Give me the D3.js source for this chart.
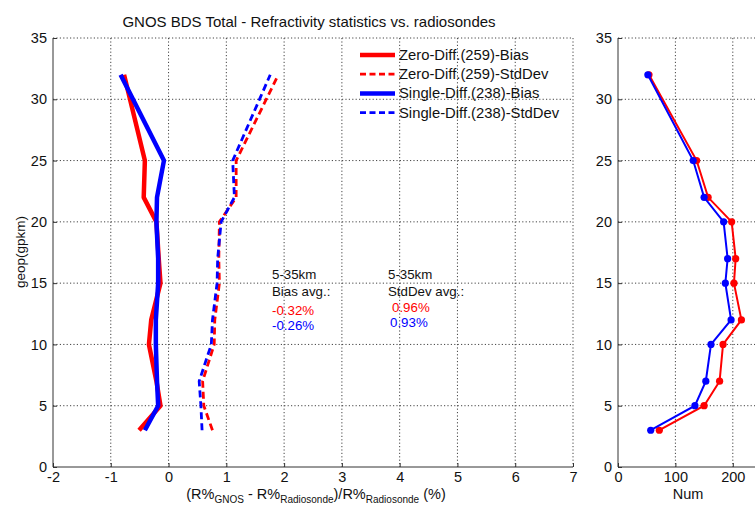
<!DOCTYPE html>
<html>
<head>
<meta charset="utf-8">
<script src="https://cdn.jsdelivr.net/npm/d3@7"></script>
<style>
  body { margin: 0; background: #fff; }
  svg { font-family: "Liberation Sans", Arial, sans-serif; }
  .grid line { stroke: #444; stroke-dasharray: 1.2,2.2; stroke-width: 1; }
  .axis path, .axis line { stroke: #333; }
  .axis text { font-size: 14.5px; fill: #111; }
</style>
</head>
<body>
<svg width="755" height="508"></svg>
<script>
const svg = d3.select("svg");

// altitude levels (gpkm)
const alt = [3, 5, 7, 10, 12, 15, 17, 20, 22, 25, 32];
const zeroBias   = [-0.51, -0.14, -0.21, -0.34, -0.30, -0.14, -0.17, -0.21, -0.43, -0.41, -0.77];
const zeroStd    = [0.76, 0.61, 0.59, 0.79, 0.80, 0.88, 0.87, 0.88, 1.17, 1.17, 1.90];
const singleBias = [-0.41, -0.18, -0.20, -0.22, -0.22, -0.18, -0.18, -0.21, -0.20, -0.08, -0.83];
const singleStd  = [0.58, 0.56, 0.53, 0.74, 0.76, 0.84, 0.85, 0.91, 1.14, 1.11, 1.76];
const zeroNum    = [72, 150, 177, 183, 215, 202, 205, 198, 157, 137, 54];
const singleNum  = [57, 134, 153, 162, 197, 187, 191, 184, 150, 131, 52];

const xTicks = [-2, -1, 0, 1, 2, 3, 4, 5, 6, 7];
const yTicks = [0, 5, 10, 15, 20, 25, 30, 35];
const numTicks = [0, 100, 200, 250];

const series = [
  { name: 'Zero-Diff.(259)-Bias', vals: zeroBias, color: '#ff0000', dash: null, w: 4.5 },
  { name: 'Zero-Diff.(259)-StdDev', vals: zeroStd, color: '#ff0000', dash: '7,4', w: 2.8 },
  { name: 'Single-Diff.(238)-Bias', vals: singleBias, color: '#0000ff', dash: null, w: 4.5 },
  { name: 'Single-Diff.(238)-StdDev', vals: singleStd, color: '#0000ff', dash: '7,4', w: 2.8 }
];

const plotTop = 38, plotBottom = 467;
const x = d3.scaleLinear().domain([-2, 7]).range([53, 573]);
const y = d3.scaleLinear().domain([0, 35]).range([plotBottom, plotTop]);
const xn = d3.scaleLinear().domain([0, 250]).range([618, 761.5]);

// plain hyphen for negatives, like the original
const fmt = d => String(d);

const drawPanel = (xs, xt) => {
  const g = svg.append('g');
  // dotted grid
  const grid = g.append('g').attr('class', 'grid');
  grid.selectAll('.gx').data(xt.filter(t => t !== xs.domain()[0]))
    .enter().append('line')
    .attr('x1', d => xs(d)).attr('x2', d => xs(d))
    .attr('y1', plotTop).attr('y2', plotBottom);
  grid.selectAll('.gy').data(yTicks.filter(t => t !== 0))
    .enter().append('line')
    .attr('x1', xs.range()[0]).attr('x2', xs.range()[1])
    .attr('y1', d => y(d)).attr('y2', d => y(d));

  const xAxisG = g.append('g').attr('class', 'axis')
    .attr('transform', `translate(0, ${plotBottom})`)
    .call(d3.axisBottom(xs).tickValues(xt.filter(t => xs(t) < 755)).tickSize(-4).tickPadding(5).tickFormat(fmt));
  xAxisG.select('.domain').attr('d', `M${xs.range()[0]},0H${xs.range()[1]}`);
  xAxisG.selectAll('text').attr('dy', '0.71em');

  const yAxisG = g.append('g').attr('class', 'axis')
    .attr('transform', `translate(${xs.range()[0]}, 0)`)
    .call(d3.axisLeft(y).tickValues(yTicks).tickSize(-4).tickPadding(6).tickFormat(fmt));
  yAxisG.select('.domain').attr('d', `M0,${plotTop}V${plotBottom}`);
  return g;
};

drawPanel(x, xTicks);
drawPanel(xn, numTicks);

// profiles, left panel
const line = xs => d3.line().x(d => xs(d[0])).y(d => y(d[1]));
series.forEach(s => {
  svg.append('path')
    .datum(s.vals.map((v, i) => [v, alt[i]]))
    .attr('d', line(x))
    .attr('fill', 'none')
    .attr('stroke', s.color)
    .attr('stroke-width', s.w)
    .attr('stroke-dasharray', s.dash)
    .attr('stroke-linejoin', 'round');
});

// legend
const legend = svg.append('g').attr('transform', 'translate(360, 55)');
series.forEach((s, i) => {
  legend.append('line')
    .attr('x1', 0).attr('x2', 35)
    .attr('y1', i * 19.2).attr('y2', i * 19.2)
    .attr('stroke', s.color)
    .attr('stroke-width', s.w)
    .attr('stroke-dasharray', s.dash ? '6,3.5' : null);
  legend.append('text')
    .attr('x', 39).attr('y', i * 19.2 + 5)
    .attr('font-size', 14.8)
    .attr('fill', '#111')
    .text(s.name);
});

// averages
const note = svg.append('g').attr('font-size', 13.3);
note.append('text').attr('x', 272).attr('y', 279).attr('fill', '#111').text('5-35km');
note.append('text').attr('x', 272).attr('y', 296).attr('fill', '#111').text('Bias avg.:');
note.append('text').attr('x', 272).attr('y', 315).attr('fill', '#ff0000').text('-0.32%');
note.append('text').attr('x', 272).attr('y', 330).attr('fill', '#0000ff').text('-0.26%');
note.append('text').attr('x', 388).attr('y', 279).attr('fill', '#111').text('5-35km');
note.append('text').attr('x', 388).attr('y', 296).attr('fill', '#111').text('StdDev avg.:');
note.append('text').attr('x', 392).attr('y', 312).attr('fill', '#ff0000').text('0.96%');
note.append('text').attr('x', 390).attr('y', 327).attr('fill', '#0000ff').text('0.93%');

// counts, right panel
[[zeroNum, '#ff0000'], [singleNum, '#0000ff']].forEach(([vals, c]) => {
  const pts = vals.map((v, i) => [v, alt[i]]);
  svg.append('path')
    .datum(pts)
    .attr('d', line(xn))
    .attr('fill', 'none')
    .attr('stroke', c)
    .attr('stroke-width', 2);
  svg.append('g').selectAll('circle')
    .data(pts)
    .enter().append('circle')
    .attr('cx', d => xn(d[0]))
    .attr('cy', d => y(d[1]))
    .attr('r', 3.6)
    .attr('fill', c);
});

// titles and axis labels
svg.append('text')
  .attr('x', 309).attr('y', 27)
  .attr('text-anchor', 'middle')
  .attr('font-size', 15)
  .attr('fill', '#111')
  .text('GNOS BDS Total - Refractivity statistics vs. radiosondes');

svg.append('text')
  .attr('transform', 'translate(25, 252) rotate(-90)')
  .attr('text-anchor', 'middle')
  .attr('font-size', 13.5)
  .attr('fill', '#111')
  .text('geop(gpkm)');

const xl = svg.append('text')
  .attr('x', 316).attr('y', 499)
  .attr('text-anchor', 'middle')
  .attr('font-size', 14.5)
  .attr('fill', '#111');
xl.append('tspan').text('(R%');
xl.append('tspan').attr('font-size', 10).attr('dy', 4).text('GNOS');
xl.append('tspan').attr('dy', -4).text(' - R%');
xl.append('tspan').attr('font-size', 10).attr('dy', 4).text('Radiosonde');
xl.append('tspan').attr('dy', -4).text(')/R%');
xl.append('tspan').attr('font-size', 10).attr('dy', 4).text('Radiosonde');
xl.append('tspan').attr('dy', -4).text(' (%)');

svg.append('text')
  .attr('x', 688).attr('y', 499)
  .attr('text-anchor', 'middle')
  .attr('font-size', 14.5)
  .attr('fill', '#111')
  .text('Num');
</script>
</body>
</html>
